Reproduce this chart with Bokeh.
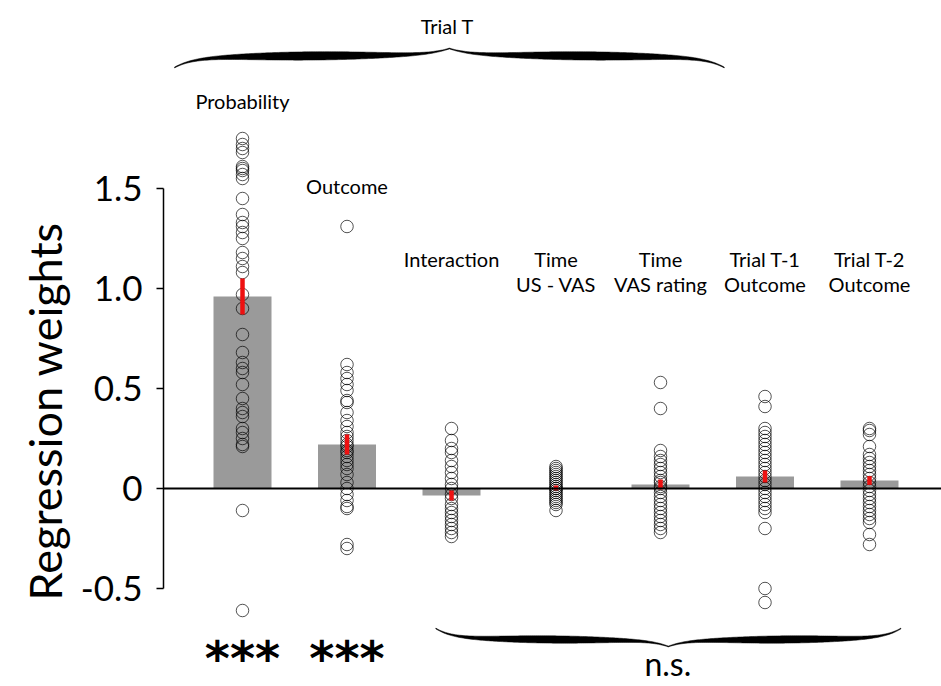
import numpy as np
from bokeh.plotting import figure
from bokeh.models import Span, Title, FixedTicker, Range1d
from bokeh.core.properties import value
from bokeh.embed import file_html
from bokeh.resources import INLINE

# ---------------- data ----------------
categories = ["Probability", "Outcome", "Interaction", "Time US - VAS",
              "Time VAS rating", "Trial T-1 Outcome", "Trial T-2 Outcome"]
label_line1 = ["Probability", "Outcome", "Interaction", "Time", "Time", "Trial T-1", "Trial T-2"]
label_line2 = ["", "", "", "US - VAS", "VAS rating", "Outcome", "Outcome"]

means = [0.96, 0.22, -0.035, 0.003, 0.02, 0.06, 0.04]
sems = [0.09, 0.05, 0.025, 0.012, 0.025, 0.03, 0.022]

prob_pts = [1.75, 1.72, 1.70, 1.68, 1.61, 1.60, 1.59, 1.57, 1.55, 1.45, 1.37, 1.33,
            1.31, 1.28, 1.25, 1.18, 1.15, 1.11, 1.08, 0.97, 0.90, 0.77, 0.68, 0.63,
            0.60, 0.58, 0.52, 0.45, 0.40, 0.38, 0.36, 0.30, 0.28, 0.25, 0.22, 0.21,
            -0.11, -0.61]
outcome_pts = [1.31, 0.62, 0.58, 0.55, 0.52, 0.49, 0.44, 0.43, 0.38, 0.34, 0.31, 0.28,
               0.26, 0.24, 0.22, 0.21, 0.19, 0.18, 0.16, 0.14, 0.12, 0.10, 0.07, 0.03,
               0.0, -0.03, -0.06, -0.09, -0.10, -0.28, -0.30]
interaction_pts = [0.30, 0.24, 0.20, 0.18, 0.14, 0.11, 0.08, 0.05, 0.02, 0.0, -0.03,
                   -0.05, -0.08, -0.10, -0.12, -0.14, -0.16, -0.18, -0.20, -0.22, -0.24]
us_vas_pts = [0.11, 0.10, 0.09, 0.08, 0.07, 0.06, 0.05, 0.04, 0.03, 0.02, 0.01, 0.0,
              0.0, -0.01, -0.02, -0.03, -0.04, -0.05, -0.06, -0.07, -0.08, -0.11]
vas_rating_pts = [0.53, 0.40, 0.19, 0.16, 0.14, 0.12, 0.10, 0.08, 0.06, 0.04, 0.03,
                  0.01, 0.0, -0.02, -0.04, -0.06, -0.08, -0.10, -0.12, -0.14, -0.16,
                  -0.18, -0.20, -0.22]
t1_pts = [0.46, 0.41, 0.30, 0.28, 0.26, 0.24, 0.22, 0.20, 0.18, 0.16, 0.14, 0.12,
          0.10, 0.08, 0.06, 0.04, 0.02, 0.0, -0.02, -0.04, -0.06, -0.08, -0.10,
          -0.12, -0.20, -0.50, -0.57]
t2_pts = [0.30, 0.29, 0.27, 0.21, 0.17, 0.15, 0.13, 0.11, 0.09, 0.07, 0.05, 0.03,
          0.01, -0.01, -0.03, -0.05, -0.07, -0.09, -0.11, -0.13, -0.15, -0.17,
          -0.23, -0.28]
all_pts = [prob_pts, outcome_pts, interaction_pts, us_vas_pts, vas_rating_pts, t1_pts, t2_pts]

y_ticks = [-0.5, 0, 0.5, 1.0, 1.5]
y_tick_labels = ["-0.5", "0", "0.5", "1.0", "1.5"]
y_title = "Regression weights"
sig_marks = ["***", "***"]           # for the first two regressors
ns_text = "n.s."
group_top = "Trial T"

FONT = "Lato"

# ---------------- figure ----------------
p = figure(width=941, height=686, output_backend="svg", toolbar_location=None,
           x_axis_location=None, min_border_left=163, min_border_right=0,
           min_border_top=0, min_border_bottom=0,
           x_range=Range1d(-0.756, 6.689), y_range=Range1d(-0.99, 2.44))
p.grid.visible = False
p.outline_line_color = None
p.background_fill_color = "white"
p.border_fill_color = "white"

ax = p.yaxis[0]
ax.ticker = FixedTicker(ticks=y_ticks)
ax.major_label_overrides = {t: l for t, l in zip(y_ticks, y_tick_labels)}
ax.bounds = (-0.5, 1.5)
ax.minor_tick_line_color = None
ax.major_tick_in = 0
ax.major_tick_out = 7
ax.major_tick_line_width = 1.5
ax.axis_line_width = 1.5
ax.major_label_text_font = FONT
ax.major_label_text_font_size = "35px"
ax.major_label_text_color = "black"
ax.major_label_standoff = 14

# y-axis title as a left title, shifted to sit beside the ticked span
p.add_layout(Title(text=y_title, align="left", offset=86, standoff=12,
                   text_font=FONT, text_font_size="45px", text_font_style="normal",
                   text_color="black"), "left")

xs = list(range(len(categories)))

# bars
p.vbar(x=xs, top=means, bottom=0, width=0.555, fill_color="#9a9a9a", line_color=None)

# zero line
p.add_layout(Span(location=0, dimension="width", line_color="black", line_width=2.2))

# individual points
px_, py_ = [], []
for i, pts in enumerate(all_pts):
    px_ += [i] * len(pts)
    py_ += pts
p.scatter(x=px_, y=py_, marker="circle", size=12.5, fill_color=None,
          line_color="black", line_width=0.8, line_alpha=0.85)

# error bars
lo = [m - s for m, s in zip(means, sems)]
hi = [m + s for m, s in zip(means, sems)]
p.segment(x0=xs, y0=lo, x1=xs, y1=hi, line_color="#ee1111", line_width=4.5)

# category labels
lab_y1 = [1.94, 1.515, 1.15, 1.15, 1.15, 1.15, 1.15]
p.text(x=xs, y=lab_y1, text=label_line1, text_align="center", text_baseline="middle",
       text_font=value(FONT), text_font_size="20px", text_color="black")
p.text(x=xs, y=[1.025] * len(xs), text=label_line2, text_align="center",
       text_baseline="middle", text_font=value(FONT), text_font_size="20px",
       text_color="black")

# braces
def brace(xa, xb, y_end, height, wmax, px_per_y=200.0):
    xm = (xa + xb) / 2.0
    s = np.linspace(0, 1, 120)
    g = 0.55 * (1 - np.exp(-s / 0.07)) + 0.12 * s + 0.33 * s ** 14
    yc = y_end + height * g
    w = (0.8 + wmax * np.sin(np.pi * s) ** 1.3) / px_per_y
    patches_x, patches_y = [], []
    for xline in (xa + s * (xm - xa), xb - s * (xb - xm)):
        patches_x.append(list(np.concatenate([xline, xline[::-1]])))
        patches_y.append(list(np.concatenate([yc + w / 2, (yc - w / 2)[::-1]])))
    return patches_x, patches_y

bx, by = brace(-0.65, 4.61, 2.105, 0.095, 7.5)
p.patches(bx, by, fill_color="black", line_color="black", line_width=0.5)
bx2, by2 = brace(1.85, 6.30, -0.70, -0.09, 6.5)
p.patches(bx2, by2, fill_color="black", line_color="black", line_width=0.5)

p.text(x=[1.96], y=[2.315], text=[group_top], text_align="center", text_baseline="middle",
       text_font=value(FONT), text_font_size="20px", text_color="black")
p.text(x=[4.07], y=[-0.875], text=[ns_text], text_align="center", text_baseline="middle",
       text_font=value(FONT), text_font_size="32px", text_color="black")
for i, mark in enumerate(sig_marks):
    p.text(x=[i], y=[-0.845], text=[mark], text_align="center",
           text_baseline="middle", text_font=value("DejaVu Sans"), text_font_size="48px",
           text_font_style="bold", text_color="black")

open("out.html", "w").write(file_html(p, INLINE))
